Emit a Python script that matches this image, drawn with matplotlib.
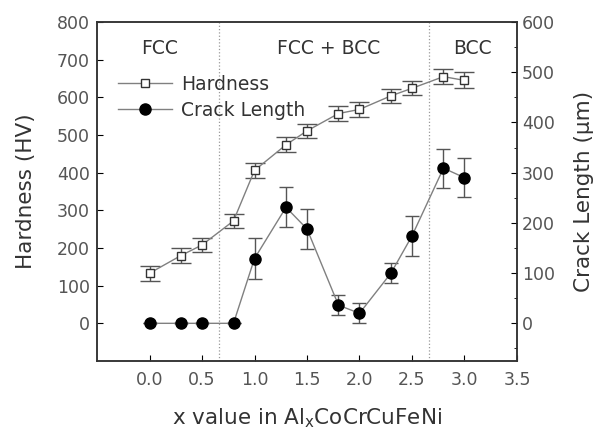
import numpy as np
import matplotlib.pyplot as plt
from matplotlib.lines import Line2D

plt.rcParams["font.family"] = ["DejaVu Sans"]
plt.rcParams["mathtext.fontset"] = "dejavusans"

# composition x in AlxCoCrCuFeNi
x_vals = [0.0, 0.3, 0.5, 0.8, 1.0, 1.3, 1.5, 1.8, 2.0, 2.3, 2.5, 2.8, 3.0]
hardness = [133, 180, 208, 272, 406, 474, 511, 557, 568, 604, 624, 655, 645]
hardness_err = [20, 19, 18, 18, 20, 20, 19, 19, 20, 19, 19, 19, 21]
crack = [0, 0, 0, 0, 129, 231, 188, 36, 20, 100, 174, 309, 290]
crack_err = [0, 0, 0, 0, 40, 40, 40, 20, 20, 20, 40, 39, 39]

phase_bounds = [0.665, 2.665]
phase_labels = ["FCC", "FCC + BCC", "BCC"]
phase_label_x = [0.1, 1.71, 3.08]

txt = "#333333"
tick_c = "#555555"
line_c = "#808080"

fig = plt.figure(figsize=(5.93, 4.30), dpi=100)
ax = fig.add_axes([0.1636, 0.1605, 0.7082, 0.7883])
ax2 = ax.twinx()

ax.errorbar(x_vals, hardness, yerr=hardness_err, fmt="s", ls="-", color=line_c,
            mfc="white", mec="#333333", ms=6.3, mew=1.0, lw=1.0,
            ecolor="#555555", elinewidth=1.0, capsize=7, capthick=1.0, zorder=3)
ax2.errorbar(x_vals, crack, yerr=crack_err, fmt="o", ls="-", color=line_c,
             mfc="black", mec="black", ms=8, lw=1.0,
             ecolor="#555555", elinewidth=1.0, capsize=5, capthick=1.0, zorder=3)

for xb in phase_bounds:
    ax.axvline(xb, color="#999999", ls=":", lw=0.9)

for lab, xl in zip(phase_labels, phase_label_x):
    ax.text(xl, 731, lab, ha="center", va="center", fontsize=13.5, color=txt)

ax.set_xlim(-0.5, 3.5)
ax.set_ylim(-100, 800)
ax2.set_ylim(-75, 600)

ax.set_xticks(np.arange(0, 3.51, 0.5))
ax.set_yticks(np.arange(0, 801, 100))
ax2.set_yticks(np.arange(0, 601, 100))
ax2.set_yticks(np.arange(-50, 600, 50), minor=True)

ax.tick_params(axis="x", direction="in", length=4, pad=7, labelsize=12.5, labelcolor=tick_c, top=False)
ax.tick_params(axis="y", direction="in", length=4, pad=5, labelsize=12.5, labelcolor=tick_c)
ax2.tick_params(direction="in", length=4, pad=3.5, labelsize=12.5, labelcolor=tick_c)
ax2.tick_params(which="minor", direction="in", length=2.5)

ax.set_xlabel(r"x value in Al$_\mathregular{x}$CoCrCuFeNi", fontsize=15.5, color=txt, labelpad=13)
ax.set_ylabel("Hardness (HV)", fontsize=15.5, color=txt, labelpad=15)
ax2.set_ylabel("Crack Length (\u03bcm)", fontsize=15.5, color=txt, labelpad=14)

for a in (ax, ax2):
    for s in a.spines.values():
        s.set_color("#333333")
        s.set_linewidth(1.1)

leg_h = [
    Line2D([], [], color=line_c, lw=1.0, marker="s", ms=6.3, mfc="white", mec="#333333"),
    Line2D([], [], color=line_c, lw=1.0, marker="o", ms=8, mfc="black", mec="black"),
]
ax.legend(leg_h, ["Hardness", "Crack Length"], loc="upper left",
          bbox_to_anchor=(0.05, 0.845), frameon=False, fontsize=13.5,
          labelcolor=txt, handlelength=2.9, handletextpad=0.45,
          borderaxespad=0, borderpad=0, labelspacing=0.4)

fig.savefig("out.png", dpi=100)
